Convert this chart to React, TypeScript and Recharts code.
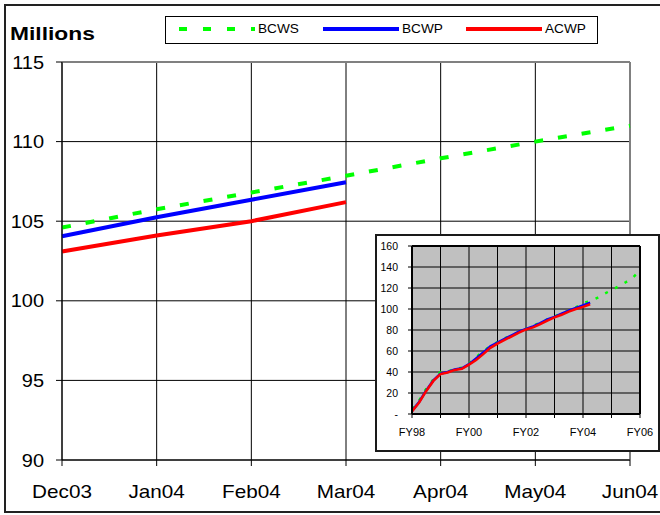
import React from "react";
import { LineChart, Line, XAxis, YAxis, CartesianGrid, ReferenceLine } from "recharts";

// main chart: Dec03 .. Jun04, $ millions
const MONTHS = ["Dec03", "Jan04", "Feb04", "Mar04", "Apr04", "May04", "Jun04"];
const BCWS = [104.6, 105.75, 106.8, 107.85, 108.95, 110.0, 111.0];
const BCWP = [104.05, 105.25, 106.35, 107.45, null, null, null];
const ACWP = [103.1, 104.1, 105.0, 106.2, null, null, null];
const Y_TICKS = [90, 95, 100, 105, 110, 115];

// inset: quarters since start of FY98
const HIST_T = [
  0, 0.25, 0.5, 0.75, 1, 1.25, 1.5, 1.75, 2, 2.25, 2.5, 2.75, 3, 3.25, 3.5, 3.75, 4,
  4.25, 4.5, 4.75, 5, 5.25, 5.5, 5.75, 6, 6.25, 6.5, 6.75, 7, 7.25, 7.5, 7.75, 8,
];
const HIST_BCWS = [
  5, 13, 24, 33, 40, 40.5, 42.5, 44, 48, 54, 60, 64.5, 68.5, 72, 75, 78, 81,
  84, 87, 90, 93, 95.5, 98.5, 101.5, 105.5, 107.5, 110.5, 114.5, 118, 121.5, 125.5, 130, 136.5,
];
const HIST_BCWP = [
  3, 11.5, 22.5, 32, 38.5, 40, 42.5, 43.5, 47.5, 53, 58.5, 64.5, 68, 71.5, 75, 78.5, 81,
  83.5, 86.5, 90, 92.5, 95.5, 98.5, 101, 103.5, 106,
];
const HIST_ACWP = [
  2.5, 11, 22, 31.5, 38, 39.5, 42, 43, 47, 51.5, 57, 63, 67, 70.5, 74, 77.5, 80.5,
  82.5, 85.5, 89, 92, 94.5, 97.5, 100, 102, 104.5,
];
const HIST_X_TICKS = [0, 1, 2, 3, 4, 5, 6, 7, 8];
const HIST_X_LABELS: Record<number, string> = { 0: "FY98", 2: "FY00", 4: "FY02", 6: "FY04", 8: "FY06" };
const HIST_Y_TICKS = [0, 20, 40, 60, 80, 100, 120, 140, 160];

const FONT = "'Liberation Sans', Arial, sans-serif";

const SERIES = [
  { key: "bcws", name: "BCWS", color: "#00ff00", dash: "9 15" },
  { key: "bcwp", name: "BCWP", color: "#0000ff", dash: undefined },
  { key: "acwp", name: "ACWP", color: "#ff0000", dash: undefined },
];

const mainData = MONTHS.map((m, i) => ({ month: m, bcws: BCWS[i], bcwp: BCWP[i], acwp: ACWP[i] }));
const histData = HIST_T.map((t, i) => ({
  t,
  bcws: HIST_BCWS[i],
  bcwp: HIST_BCWP[i] ?? null,
  acwp: HIST_ACWP[i] ?? null,
}));

function MainXTick(props: any) {
  const { x, y, payload } = props;
  return (
    <g transform={`translate(${x},${y})`}>
      <text textAnchor="middle" dy="0.71em" fontSize={18} fontFamily={FONT} fill="#000" transform="scale(1.15,1)">
        {payload.value}
      </text>
    </g>
  );
}

function MainYTick(props: any) {
  const { x, y, payload } = props;
  return (
    <g transform={`translate(${x},${y})`}>
      <text textAnchor="end" dy="0.355em" fontSize={18.5} fontFamily={FONT} fill="#000" transform="scale(1.08,1)">
        {payload.value}
      </text>
    </g>
  );
}

function HistXTick(props: any) {
  const { x, y, payload } = props;
  const label = HIST_X_LABELS[payload.value];
  if (!label) return <g />;
  return (
    <g transform={`translate(${x},${y})`}>
      <text textAnchor="middle" dy="0.71em" fontSize={10} fontFamily={FONT} fill="#000" transform="scale(1.1,1)">
        {label}
      </text>
    </g>
  );
}

function HistYTick(props: any) {
  const { x, y, payload } = props;
  return (
    <g transform={`translate(${x},${y})`}>
      <text textAnchor="end" dy="0.355em" fontSize={10} fontFamily={FONT} fill="#000" transform="scale(1.05,1)">
        {payload.value === 0 ? "-" : payload.value}
      </text>
    </g>
  );
}

function LegendBox() {
  const slots = [13, 157, 300];
  return (
    <div
      style={{
        position: "absolute",
        left: 165,
        top: 16,
        width: 433,
        height: 28,
        border: "1px solid #000",
        boxSizing: "border-box",
        background: "#fff",
      }}
    >
      <svg width={431} height={26} style={{ display: "block" }}>
        {SERIES.map((s, i) => (
          <g key={s.key}>
            <line
              x1={slots[i]}
              x2={slots[i] + 76}
              y1={12}
              y2={12}
              stroke={s.color}
              strokeWidth={4}
              strokeDasharray={s.dash ? "8 16" : undefined}
            />
            <g transform={`translate(${slots[i] + 79},16)`}>
              <text fontSize={13} fontFamily={FONT} fill="#000" transform="scale(1.05,1)">
                {s.name}
              </text>
            </g>
          </g>
        ))}
      </svg>
    </div>
  );
}

function Inset() {
  return (
    <div
      style={{
        position: "absolute",
        left: 375,
        top: 234,
        width: 285,
        height: 218,
        border: "2px solid #1a1a1a",
        boxSizing: "border-box",
        background: "#fff",
      }}
    >
      <LineChart width={281} height={214} data={histData} margin={{ top: 10, right: 18, left: 0, bottom: 0 }}>
        <CartesianGrid stroke="#000" strokeWidth={1} fill="#c0c0c0" fillOpacity={1} />
        <XAxis
          dataKey="t"
          type="number"
          domain={[0, 8]}
          ticks={HIST_X_TICKS}
          interval={0}
          height={36}
          tickSize={4}
          tickMargin={11}
          axisLine={{ stroke: "#000", strokeWidth: 2 }}
          tickLine={{ stroke: "#000" }}
          tick={(p: any) => <HistXTick {...p} />}
        />
        <YAxis
          domain={[0, 160]}
          ticks={HIST_Y_TICKS}
          interval={0}
          width={35}
          tickSize={4}
          tickMargin={10}
          axisLine={{ stroke: "#000", strokeWidth: 2 }}
          tickLine={{ stroke: "#000" }}
          tick={(p: any) => <HistYTick {...p} />}
        />
        <ReferenceLine y={160} stroke="#000" strokeWidth={2} />
        <ReferenceLine x={8} stroke="#000" strokeWidth={2} />
        {SERIES.map((s) => (
          <Line
            key={s.key}
            dataKey={s.key}
            type="linear"
            stroke={s.color}
            strokeWidth={2.5}
            strokeDasharray={s.dash ? "3 8" : undefined}
            dot={false}
            isAnimationActive={false}
          />
        ))}
      </LineChart>
    </div>
  );
}

export default function App() {
  return (
    <div
      style={{
        position: "absolute",
        left: 0,
        top: 0,
        width: 660,
        height: 515,
        overflow: "hidden",
        background: "#fff",
        fontFamily: FONT,
      }}
    >
      <LineChart width={660} height={515} data={mainData} margin={{ top: 62, right: 30, left: 0, bottom: 0 }}>
        <CartesianGrid stroke="#000" strokeWidth={1} />
        <XAxis
          dataKey="month"
          height={55}
          tickSize={6}
          tickMargin={19}
          interval={0}
          axisLine={{ stroke: "#000" }}
          tickLine={{ stroke: "#000" }}
          tick={(p: any) => <MainXTick {...p} />}
        />
        <YAxis
          domain={[90, 115]}
          ticks={Y_TICKS}
          interval={0}
          width={62}
          tickSize={6}
          tickMargin={12}
          axisLine={{ stroke: "#000" }}
          tickLine={{ stroke: "#000" }}
          tick={(p: any) => <MainYTick {...p} />}
        />
        <ReferenceLine y={115} stroke="#808080" strokeWidth={2} />
        <ReferenceLine x="Jun04" stroke="#808080" strokeWidth={2} />
        {SERIES.map((s) => (
          <Line
            key={s.key}
            dataKey={s.key}
            name={s.name}
            type="linear"
            stroke={s.color}
            strokeWidth={4}
            strokeDasharray={s.dash}
            dot={false}
            isAnimationActive={false}
          />
        ))}
      </LineChart>
      <div
        style={{
          position: "absolute",
          left: 4,
          top: 4,
          width: 720,
          height: 509,
          border: "2px solid #222",
          boxSizing: "border-box",
          pointerEvents: "none",
        }}
      />
      <Inset />
      <LegendBox />
      <svg width={140} height={50} style={{ position: "absolute", left: 0, top: 0 }}>
        <g transform="translate(10,40)">
          <text fontSize={19} fontWeight="bold" fontFamily={FONT} fill="#000" transform="scale(1.2,1)">
            Millions
          </text>
        </g>
      </svg>
    </div>
  );
}
